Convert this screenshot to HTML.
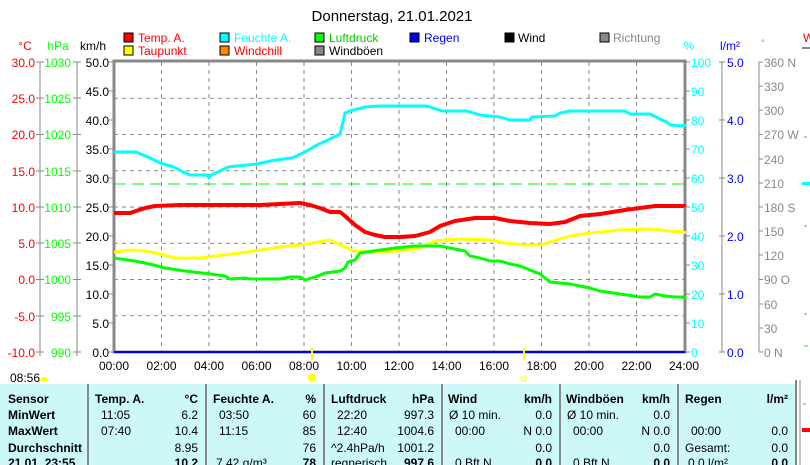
<!DOCTYPE html>
<html><head><meta charset="utf-8"><style>
body{margin:0;background:#fff;width:810px;height:465px;overflow:hidden;font-family:"Liberation Sans",sans-serif}
svg{display:block}
</style></head><body>
<svg width="810" height="465" xmlns="http://www.w3.org/2000/svg" font-family="Liberation Sans, sans-serif" font-size="12">
<text x="392" y="21" font-size="15" text-anchor="middle">Donnerstag, 21.01.2021</text>
<!-- legend -->
<g font-size="12">
<rect x="124" y="33" width="9" height="9" fill="#f00" stroke="#000"/><text x="138" y="42" fill="#f00">Temp. A.</text>
<rect x="124" y="46" width="9" height="9" fill="#ff0" stroke="#000"/><text x="138" y="55" fill="#f00">Taupunkt</text>
<rect x="220" y="33" width="9" height="9" fill="#0ff" stroke="#000"/><text x="234" y="42" fill="#0ff">Feuchte A.</text>
<rect x="220" y="46" width="9" height="9" fill="#f80" stroke="#000"/><text x="234" y="55" fill="#f00">Windchill</text>
<rect x="315" y="33" width="9" height="9" fill="#0f0" stroke="#000"/><text x="329" y="42" fill="#0c0">Luftdruck</text>
<rect x="315" y="46" width="9" height="9" fill="#888" stroke="#000"/><text x="329" y="55">Windböen</text>
<rect x="410" y="33" width="9" height="9" fill="#00f" stroke="#000"/><text x="424" y="42" fill="#00f">Regen</text>
<rect x="505" y="33" width="9" height="9" fill="#000" stroke="#000"/><text x="518" y="42">Wind</text>
<rect x="600" y="33" width="9" height="9" fill="#888" stroke="#000"/><text x="613" y="42" fill="#888">Richtung</text>
</g>
<!-- unit labels -->
<text x="25" y="50" fill="#f00" text-anchor="middle">°C</text>
<text x="58" y="50" fill="#0f0" text-anchor="middle">hPa</text>
<text x="93" y="50" text-anchor="middle">km/h</text>
<text x="689" y="50" fill="#0ff" text-anchor="middle">%</text>
<text x="730" y="50" fill="#00f" text-anchor="middle">l/m²</text>
<text x="761" y="46" fill="#888" font-size="9">°</text>
<text x="803" y="42" fill="#f00">W</text>
<rect x="802" y="47" width="8" height="2" fill="#888"/>
<!-- grid -->
<g stroke="#888" stroke-dasharray="4,4" stroke-width="1">
<line x1="114" x2="684" y1="98.25" y2="98.25"/><line x1="114" x2="684" y1="134.5" y2="134.5"/><line x1="114" x2="684" y1="170.75" y2="170.75"/><line x1="114" x2="684" y1="207" y2="207"/><line x1="114" x2="684" y1="243.25" y2="243.25"/><line x1="114" x2="684" y1="279.5" y2="279.5"/><line x1="114" x2="684" y1="315.75" y2="315.75"/>
<line y1="62" y2="352" x1="161.5" x2="161.5"/><line y1="62" y2="352" x1="209" x2="209"/><line y1="62" y2="352" x1="256.5" x2="256.5"/><line y1="62" y2="352" x1="304" x2="304"/><line y1="62" y2="352" x1="351.5" x2="351.5"/><line y1="62" y2="352" x1="399" x2="399"/><line y1="62" y2="352" x1="446.5" x2="446.5"/><line y1="62" y2="352" x1="494" x2="494"/><line y1="62" y2="352" x1="541.5" x2="541.5"/><line y1="62" y2="352" x1="589" x2="589"/><line y1="62" y2="352" x1="636.5" x2="636.5"/>
</g>
<line x1="114" x2="684" y1="184" y2="184" stroke="#0f0" stroke-dasharray="12,6"/>
<!-- frame -->
<rect x="114" y="61" width="571" height="291" fill="none" stroke="#888" stroke-width="3"/>
<line x1="114" x2="685" y1="352" y2="352" stroke="#00f" stroke-width="2"/>
<!-- left axes -->
<g stroke="#888"><line x1="40" x2="40" y1="62" y2="356"/><line x1="77" x2="77" y1="62" y2="356"/><line x1="722" x2="722" y1="62" y2="352"/><line x1="759" x2="759" y1="62" y2="352"/></g>
<g fill="#f00" text-anchor="end" font-size="12">
<text x="35" y="67">30.0</text><text x="35" y="103">25.0</text><text x="35" y="139">20.0</text><text x="35" y="176">15.0</text><text x="35" y="212">10.0</text><text x="35" y="248">5.0</text><text x="35" y="284">0.0</text><text x="35" y="321">-5.0</text><text x="35" y="357">-10.0</text></g>
<g fill="#0f0" text-anchor="end"><text x="71" y="67">1030</text><text x="71" y="103">1025</text><text x="71" y="139">1020</text><text x="71" y="176">1015</text><text x="71" y="212">1010</text><text x="71" y="248">1005</text><text x="71" y="284">1000</text><text x="71" y="321">995</text><text x="71" y="357">990</text></g>
<g stroke="#888"><path d="M36 62h8M36 98h8M36 134.5h8M36 171h8M36 207h8M36 243h8M36 279.5h8M36 316h8M36 352h8M73 62h8M73 98h8M73 134.5h8M73 171h8M73 207h8M73 243h8M73 279.5h8M73 316h8M73 352h8"/>
<path d="M109 62h5M109 91h5M109 120h5M109 149h5M109 178h5M109 207h5M109 236h5M109 265h5M109 294h5M109 323h5M109 352h5"/>
<path d="M685 62h5M685 91h5M685 120h5M685 149h5M685 178h5M685 207h5M685 236h5M685 265h5M685 294h5M685 323h5M685 352h5"/>
<path d="M719 62h6M719 120h6M719 178h6M719 236h6M719 294h6M719 352h6"/>
<path d="M759 62h4M759 86h4M759 110h4M759 134.5h4M759 159h4M759 183h4M759 207h4M759 231h4M759 255h4M759 279.5h4M759 304h4M759 328h4M759 352h4"/>
</g>
<g text-anchor="end"><text x="109" y="67">50.0</text><text x="109" y="96">45.0</text><text x="109" y="125">40.0</text><text x="109" y="154">35.0</text><text x="109" y="183">30.0</text><text x="109" y="212">25.0</text><text x="109" y="241">20.0</text><text x="109" y="270">15.0</text><text x="109" y="299">10.0</text><text x="109" y="328">5.0</text><text x="109" y="357">0.0</text></g>
<g fill="#0ff"><text x="691" y="67">100</text><text x="691" y="96">90</text><text x="691" y="125">80</text><text x="691" y="154">70</text><text x="691" y="183">60</text><text x="691" y="212">50</text><text x="691" y="241">40</text><text x="691" y="270">30</text><text x="691" y="299">20</text><text x="691" y="328">10</text><text x="691" y="357">0</text></g>
<g fill="#00f"><text x="727" y="67">5.0</text><text x="727" y="125">4.0</text><text x="727" y="183">3.0</text><text x="727" y="241">2.0</text><text x="727" y="299">1.0</text><text x="727" y="357">0.0</text></g>
<g fill="#888"><text x="764" y="67">360 N</text><text x="764" y="91">330</text><text x="764" y="115">300</text><text x="764" y="139">270 W</text><text x="764" y="164">240</text><text x="764" y="188">210</text><text x="764" y="212">180 S</text><text x="764" y="236">150</text><text x="764" y="260">120</text><text x="764" y="284">90  O</text><text x="764" y="309">60</text><text x="764" y="333">30</text><text x="764" y="357">0    N</text></g>
<rect x="802" y="182" width="8" height="3" fill="#0ff"/><path d="M804 137h3M804 226h3M804 314h3" stroke="#888"/><path d="M804 346h4" stroke="#0f0"/>
<!-- series -->
<g fill="none" stroke-width="3" stroke-linejoin="round">
<polyline stroke="#0ff" points="114,152 136,152 150,158 160,163 174,167 183,172 190,175 207,175 209,178 211,175 220,171 228,167 237,166 257,164 275,160 292,158 305,152 315,146 330,139 340,134 343,122 345,113 350,111 365,107 380,106 427,106 442,111 467,111 480,115 500,117 510,120 530,120 532,117 555,116 560,113 570,111 625,111 630,114 650,114 660,119 667,122 670,125 684,126"/>
<polyline stroke="#f00" stroke-width="4" points="114,213 130,213 145,208 155,206 180,205 225,205 260,205 280,204 300,203 310,205 320,208 330,212 340,212 345,216 355,225 365,232 375,235 385,237 400,237 415,236 430,232 440,226 455,221 475,218 495,218 510,221 530,223 550,224 565,222 580,216 600,214 625,210 640,208 655,206 684,206"/>
<polyline stroke="#ff0" points="114,252 130,250 145,251 160,254 175,258 200,258 215,256 240,253 260,250 280,247 300,245 330,240 345,247 355,251 370,252 400,251 420,248 435,241 445,240 460,239 490,240 505,243 525,245 540,245 550,242 570,236 590,233 620,230 650,229 670,231 684,232"/>
<polyline stroke="#0f0" points="114,258 135,261 150,264 165,268 185,271 210,274 225,276 230,279 245,278 250,279 280,279 290,277 300,277 305,280 315,277 325,273 340,271 345,268 348,262 355,260 360,253 380,250 395,248 415,246 440,246 465,251 470,256 480,258 490,261 500,261 510,264 520,266 530,270 540,274 550,282 570,284 590,288 600,291 620,294 640,297 650,297 655,294 665,296 675,297 684,297"/>
</g>
<rect x="682" y="124" width="4" height="3" fill="#0ff"/><rect x="682" y="204" width="4" height="3" fill="#f00"/><rect x="682" y="231" width="4" height="3" fill="#ff0"/><rect x="682" y="296" width="4" height="3" fill="#0f0"/>
<!-- x axis -->
<g text-anchor="middle"><text x="114" y="370">00:00</text><text x="161.5" y="370">02:00</text><text x="209" y="370">04:00</text><text x="256.5" y="370">06:00</text><text x="304" y="370">08:00</text><text x="351.5" y="370">10:00</text><text x="399" y="370">12:00</text><text x="446.5" y="370">14:00</text><text x="494" y="370">16:00</text><text x="541.5" y="370">18:00</text><text x="589" y="370">20:00</text><text x="636.5" y="370">22:00</text><text x="684" y="370">24:00</text></g>
<rect x="311" y="348" width="2" height="12" fill="#ff0"/><rect x="523" y="348" width="2" height="12" fill="#ff0"/>
<circle cx="312" cy="378" r="4" fill="#ff0"/><rect x="521" y="377" width="5" height="4" fill="none" stroke="#ff0"/>
<text x="10" y="382">08:56</text><path d="M40 381a4 4 0 0 1 8 0z" fill="#ff0"/>
<!-- table -->
<rect x="0" y="384" width="796" height="81" fill="#ccf8f8"/>
<g stroke="#888" stroke-width="2"><line x1="88" x2="88" y1="384" y2="465"/><line x1="206" x2="206" y1="384" y2="465"/><line x1="324" x2="324" y1="384" y2="465"/><line x1="442" x2="442" y1="384" y2="465"/><line x1="560" x2="560" y1="384" y2="465"/><line x1="678" x2="678" y1="384" y2="465"/><line x1="796" x2="796" y1="380" y2="465"/><line x1="800" x2="800" y1="380" y2="465" stroke-width="1"/></g>
<rect x="802" y="428" width="8" height="4" fill="#f00"/><path d="M803 404h3" stroke="#888"/>
<g font-weight="bold" font-size="12">
<text x="8" y="403">Sensor</text><text x="8" y="419">MinWert</text><text x="8" y="435">MaxWert</text><text x="8" y="452">Durchschnitt</text><text x="8" y="467">21.01. 23:55</text>
<text x="95" y="403">Temp. A.</text><text x="198" y="403" text-anchor="end">°C</text>
<text x="213" y="403">Feuchte A.</text><text x="316" y="403" text-anchor="end">%</text>
<text x="331" y="403">Luftdruck</text><text x="434" y="403" text-anchor="end">hPa</text>
<text x="448" y="403">Wind</text><text x="552" y="403" text-anchor="end">km/h</text>
<text x="566" y="403">Windböen</text><text x="670" y="403" text-anchor="end">km/h</text>
<text x="685" y="403">Regen</text><text x="788" y="403" text-anchor="end">l/m²</text>
<text x="198" y="467" text-anchor="end">10.2</text><text x="316" y="467" text-anchor="end">78</text><text x="434" y="467" text-anchor="end">997.6</text><text x="552" y="467" text-anchor="end">0.0</text><text x="670" y="467" text-anchor="end">0.0</text><text x="788" y="467" text-anchor="end">0.0</text>
</g>
<g font-size="12">
<text x="101" y="419">11:05</text><text x="198" y="419" text-anchor="end">6.2</text>
<text x="101" y="435">07:40</text><text x="198" y="435" text-anchor="end">10.4</text>
<text x="198" y="452" text-anchor="end">8.95</text>
<text x="219" y="419">03:50</text><text x="316" y="419" text-anchor="end">60</text>
<text x="219" y="435">11:15</text><text x="316" y="435" text-anchor="end">85</text>
<text x="316" y="452" text-anchor="end">76</text><text x="216" y="467">7.42 g/m³</text>
<text x="337" y="419">22:20</text><text x="434" y="419" text-anchor="end">997.3</text>
<text x="337" y="435">12:40</text><text x="434" y="435" text-anchor="end">1004.6</text>
<text x="331" y="452">^2.4hPa/h</text><text x="434" y="452" text-anchor="end">1001.2</text><text x="331" y="467">regnerisch</text>
<text x="449" y="419">Ø 10 min.</text><text x="552" y="419" text-anchor="end">0.0</text>
<text x="455" y="435">00:00</text><text x="552" y="435" text-anchor="end">N 0.0</text>
<text x="552" y="452" text-anchor="end">0.0</text><text x="455" y="467">0 Bft N</text>
<text x="567" y="419">Ø 10 min.</text><text x="670" y="419" text-anchor="end">0.0</text>
<text x="573" y="435">00:00</text><text x="670" y="435" text-anchor="end">N 0.0</text>
<text x="670" y="452" text-anchor="end">0.0</text><text x="573" y="467">0 Bft N</text>
<text x="691" y="435">00:00</text><text x="788" y="435" text-anchor="end">0.0</text>
<text x="685" y="452">Gesamt:</text><text x="788" y="452" text-anchor="end">0.0</text><text x="688" y="467">0.0 l/m²</text>
</g>
</svg>
</body></html>
